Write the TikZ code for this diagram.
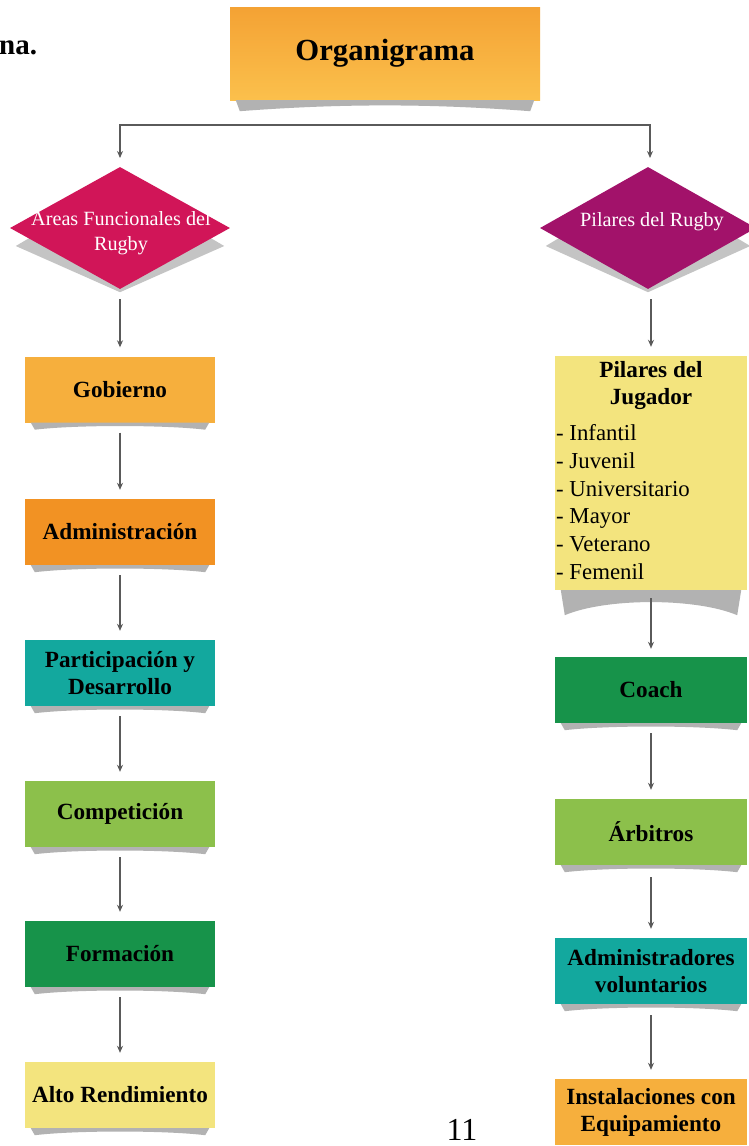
\documentclass[tikz,border=0pt]{standalone}
\usepackage{fontspec}
\setmainfont{Liberation Serif}
\usetikzlibrary{arrows.meta,shapes.geometric,calc}
\definecolor{orgTop}{HTML}{F4A234}
\definecolor{orgBot}{HTML}{FBC04C}
\definecolor{pinkD}{HTML}{D11558}
\definecolor{magD}{HTML}{A2126A}
\definecolor{gobC}{HTML}{F6AF3D}
\definecolor{admC}{HTML}{F29223}
\definecolor{tealC}{HTML}{13A89E}
\definecolor{lgreenC}{HTML}{8CC04B}
\definecolor{dgreenC}{HTML}{17934A}
\definecolor{yellowC}{HTML}{F3E47E}
\definecolor{shadowC}{HTML}{B2B2B2}
\definecolor{diaShadowC}{HTML}{C4C4C4}
\definecolor{arrowC}{HTML}{5A5A5A}
\pgfdeclarelayer{bg}
\pgfdeclarelayer{paper}
\pgfsetlayers{paper,bg,main}
\newcommand\boxshadow[2]{%
  \fill[shadowC] ($(#1.south west)+(6,0)$) -- ($(#1.south east)+(-6,0)$)
    -- ($(#1.south east)+(-10,#2)$)
    .. controls ($(#1.south)+(45,0.3*#2)$) and ($(#1.south)+(-45,0.3*#2)$) ..
    ($(#1.south west)+(10,#2)$) -- cycle;}
\begin{document}
\begin{tikzpicture}[x=1pt,y=-1pt,
  box/.style={rectangle, minimum width=190pt, minimum height=66pt, inner sep=2pt,
    align=center, font=\fontsize{23.2}{27}\selectfont\bfseries, text=black},
  dia/.style={diamond, minimum width=220pt, minimum height=122pt, inner sep=0pt},
  diatext/.style={align=center, text=white, font=\fontsize{20.2}{25}\selectfont},
  conn/.style={draw=arrowC, line width=1.4pt, -{Stealth[length=7pt,width=6pt]}},
  bracket/.style={draw=arrowC, line width=1.4pt, {Stealth[length=7pt,width=6pt]}-{Stealth[length=7pt,width=6pt]}}
]
\useasboundingbox (0,0) rectangle (749,1146);
\begin{pgfonlayer}{paper}
  \fill[white] (0,0) rectangle (749,1146);
\end{pgfonlayer}

% title
\node[anchor=base west, font=\fontsize{29}{33}\selectfont\bfseries, inner sep=0pt] (na) at (-1,54) {na.};
\node[rectangle, minimum width=310pt, minimum height=93pt, top color=orgTop, bottom color=orgBot,
  font=\fontsize{30.7}{34}\selectfont\bfseries] (org) at (385,53.5) {Organigrama};
\boxshadow{org}{11}

% diamonds
\node[dia, fill=pinkD] (Ld) at (120,228) {};
\node[diatext] (Lt) at (121,233.5) {Areas Funcionales del\\Rugby};
\node[dia, fill=magD, minimum width=216pt] (Rd) at (648,228) {};
\node[diatext] (Rt) at (652,222) {Pilares del Rugby};
\begin{pgfonlayer}{bg}
  \fill[diaShadowC] ($(Ld.west)+(6,18)$) -- ($(Ld.north)+(0,18)$) -- ($(Ld.east)+(-6,18)$) -- ($(Ld.south)+(0,3)$) -- cycle;
  \fill[diaShadowC] ($(Rd.west)+(6,18)$) -- ($(Rd.north)+(0,18)$) -- ($(Rd.east)+(-6,18)$) -- ($(Rd.south)+(0,3)$) -- cycle;
\end{pgfonlayer}

% bracket
\coordinate (bl) at (120,158);
\coordinate (bm) at (385,125);
\coordinate (br) at (650,158);
\draw[bracket] (bl) |- (bm) -| (br);

% left column
\node[box, fill=gobC] (gob) at (120,389.5) {Gobierno};
\node[box, fill=admC] (adm) at (120,532) {Administración};
\node[box, fill=tealC] (par) at (120,673) {Participación y\\Desarrollo};
\node[box, fill=lgreenC] (com) at (120,814) {Competición};
\node[box, fill=dgreenC] (for) at (120,954) {Formación};
\node[box, fill=yellowC] (alto) at (120,1095) {Alto Rendimiento};
\foreach \n in {gob,adm,par,com,for,alto} {\boxshadow{\n}{7}}

% right column
\node[rectangle, fill=yellowC, minimum width=192pt, minimum height=234pt, inner sep=0pt] (pil) at (651,473) {};
\node[align=center, font=\fontsize{23.2}{27}\selectfont\bfseries, inner sep=0pt] (pilh) at (651,386) {Pilares del\\Jugador};
\node[anchor=west, align=left, font=\fontsize{22.8}{27.8}\selectfont, inner sep=0pt] (pill) at (556,502)
  {- Infantil\\- Juvenil\\- Universitario\\- Mayor\\- Veterano\\- Femenil};
\boxshadow{pil}{25}
\node[box, fill=dgreenC, minimum width=192pt] (coach) at (651,690) {Coach};
\node[box, fill=lgreenC, minimum width=192pt] (arb) at (651,832) {Árbitros};
\node[box, fill=tealC, minimum width=192pt] (admv) at (651,971) {Administradores\\voluntarios};
\node[box, fill=gobC, minimum width=192pt] (inst) at (651,1112) {Instalaciones con\\Equipamiento};
\foreach \n in {coach,arb,admv} {\boxshadow{\n}{7}}

% arrows left
\draw[conn] ($(Ld.south)+(0,10)$) -- ($(gob.north)+(0,-9)$);
\draw[conn] ($(gob.south)+(0,10)$) -- ($(adm.north)+(0,-9)$);
\draw[conn] ($(adm.south)+(0,10)$) -- ($(par.north)+(0,-9)$);
\draw[conn] ($(par.south)+(0,10)$) -- ($(com.north)+(0,-9)$);
\draw[conn] ($(com.south)+(0,10)$) -- ($(for.north)+(0,-9)$);
\draw[conn] ($(for.south)+(0,10)$) -- ($(alto.north)+(0,-9)$);

% arrows right
\draw[conn] ($(Rd.south)+(3,10)$) -- ($(pil.north)+(0,-9)$);
\draw[conn] ($(pil.south)+(0,8)$) -- ($(coach.north)+(0,-8)$);
\draw[conn] ($(coach.south)+(0,10)$) -- ($(arb.north)+(0,-9)$);
\draw[conn] ($(arb.south)+(0,12)$) -- ($(admv.north)+(0,-9)$);
\draw[conn] ($(admv.south)+(0,11)$) -- ($(inst.north)+(0,-9)$);

% page number
\node[anchor=base, font=\fontsize{32}{36}\selectfont, inner sep=0pt] (pg) at (462,1140) {11};
\end{tikzpicture}
\end{document}
